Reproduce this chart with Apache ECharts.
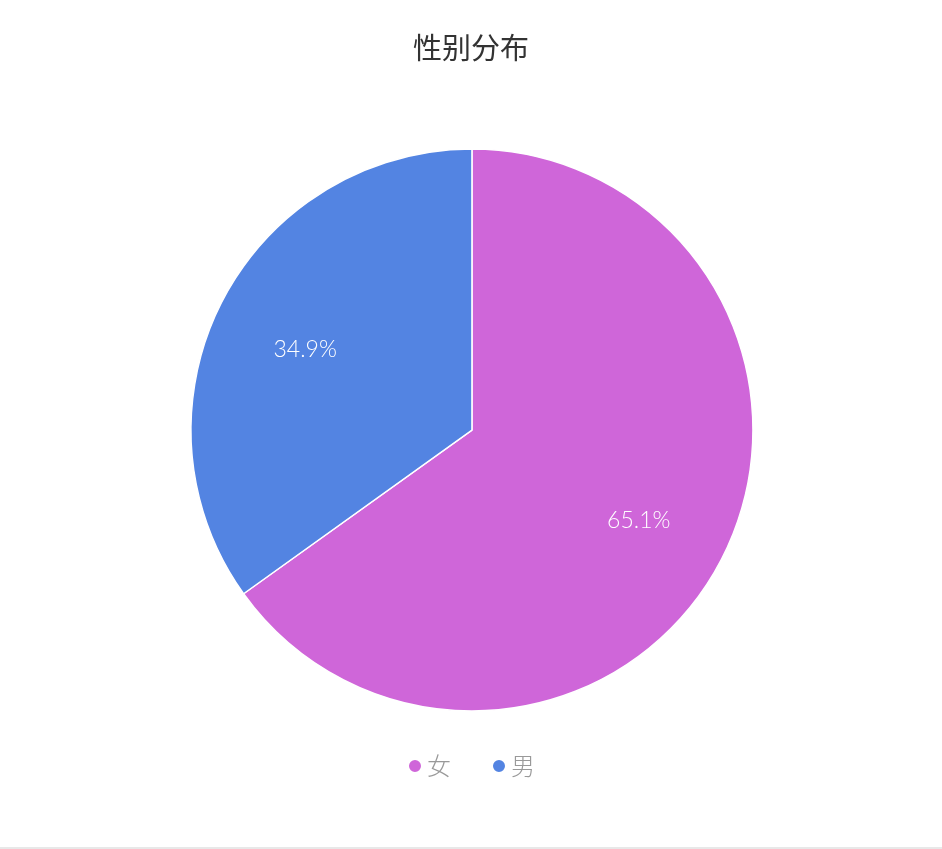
<!DOCTYPE html>
<html><head><meta charset="utf-8">
<script src="https://cdn.jsdelivr.net/npm/echarts@6/dist/echarts.min.js"></script>
<style>html,body{margin:0;padding:0;background:#fff}#c{width:942px;height:849px}</style>
</head><body><div id="c"></div>
<script>
const categories = ['女', '男'];
const values = [65.1, 34.9];
const colors = ['#cf66d9', '#5384e2'];

const chart = echarts.init(document.getElementById('c'));
const data = categories.map((n, i) => ({ name: n, value: values[i], itemStyle: { color: colors[i] } }));
chart.setOption({
  animation: false,
  title: { text: '性别分布', left: 'center', top: 28,
    textStyle: { fontSize: 29, fontWeight: 'normal', color: '#333', fontFamily: 'Noto Sans CJK SC' } },
  legend: { bottom: 66, left: 'center', icon: 'circle', itemWidth: 14, itemHeight: 14, itemGap: 40,
    textStyle: { fontSize: 24, color: '#999', fontFamily: 'Noto Sans CJK SC', fontWeight: 300 },
    data: categories },
  graphic: [{ type: 'rect', shape: { x: 0, y: 847, width: 942, height: 2 }, style: { fill: '#e8e8e8' } }],
  series: [
    { type: 'pie', center: ['50.1%', '50.65%'], radius: [0, 281], startAngle: 90, clockwise: true,
      itemStyle: { borderColor: '#fff', borderWidth: 1.5 },
      label: { show: false }, labelLine: { show: false }, data: data },
    { type: 'pie', center: ['50.1%', '50.65%'], radius: [88, 281], startAngle: 90, clockwise: true, silent: true,
      itemStyle: { color: 'rgba(0,0,0,0)', borderWidth: 0 },
      label: { show: true, position: 'inside', formatter: '{c}%', color: '#fff', fontSize: 23,
        fontFamily: 'Lato', fontWeight: 300, offset: [0, 5] },
      labelLine: { show: false },
      data: categories.map((n, i) => ({ name: n, value: values[i] })) }
  ]
});
</script></body></html>
